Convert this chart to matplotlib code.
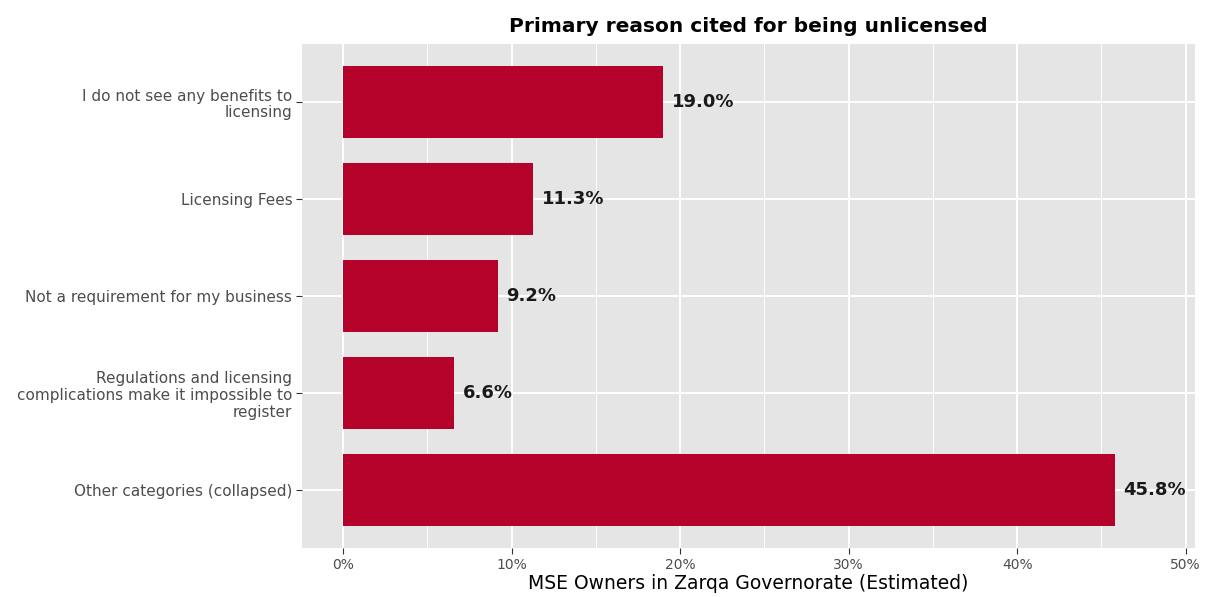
import matplotlib.pyplot as plt
from matplotlib.ticker import MultipleLocator, FuncFormatter

reasons = [
    "I do not see any benefits to\nlicensing",
    "Licensing Fees",
    "Not a requirement for my business",
    "Regulations and licensing\ncomplications make it impossible to\nregister",
    "Other categories (collapsed)",
]
shares = [19.0, 11.3, 9.2, 6.6, 45.8]

BAR = "#B5022B"
PANEL = "#E5E5E5"

plt.rcParams["font.family"] = ["DejaVu Sans"]

fig = plt.figure(figsize=(12.05, 5.97), dpi=100)
ax = fig.add_axes([302 / 1205, 1 - 548 / 597, 893 / 1205, 504 / 597])
ax.set_facecolor(PANEL)

ypos = list(range(len(reasons), 0, -1))
ax.barh(ypos, shares, height=0.74, color=BAR, zorder=3)

for y, v in zip(ypos, shares):
    ax.text(v + 0.5, y, f"{v:.1f}%", va="center", ha="left",
            fontsize=13, fontweight="bold", color="#1a1a1a", zorder=4)

ax.set_xlim(-2.43, 50.55)
ax.set_ylim(0.4, len(reasons) + 0.6)
ax.xaxis.set_major_locator(MultipleLocator(10))
ax.xaxis.set_minor_locator(MultipleLocator(5))
ax.xaxis.set_major_formatter(FuncFormatter(lambda x, p: f"{x:.0f}%"))

ax.grid(which="major", color="white", linewidth=1.4, zorder=0)
ax.grid(which="minor", axis="x", color="white", linewidth=0.7, zorder=0)
ax.set_axisbelow(True)
for s in ax.spines.values():
    s.set_visible(False)
ax.tick_params(which="major", length=4, color="#333333",
               labelcolor="#4D4D4D", width=0.8)
ax.tick_params(axis="x", labelsize=10)
ax.tick_params(axis="y", pad=3)
ax.tick_params(which="minor", length=0)

ax.set_yticks(ypos)
ax.set_yticklabels(reasons, fontsize=11, color="#4D4D4D", linespacing=1.15)

ax.set_xlabel("MSE Owners in Zarqa Governorate (Estimated)", fontsize=13.5,
              color="black", labelpad=1)
ax.set_title("Primary reason cited for being unlicensed",
             fontsize=14.5, fontweight="bold", pad=9)

fig.savefig("out.png", dpi=100)
